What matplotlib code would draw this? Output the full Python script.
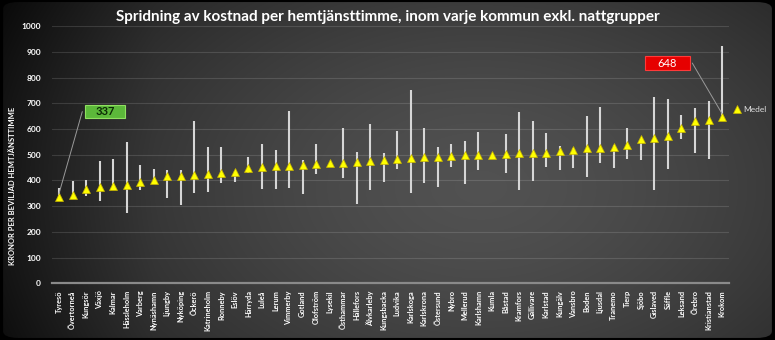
import numpy as np
import matplotlib
matplotlib.use("Agg")
import matplotlib.pyplot as plt
from matplotlib.patches import FancyBboxPatch, Rectangle

kommuner = ["Tyresö", "Övertorneå", "Kungsör", "Växjö", "Kalmar", "Hässleholm", "Varberg",
            "Nynäshamn", "Ljungby", "Nyköping", "Öckerö", "Katrineholm", "Ronneby", "Eslöv",
            "Härryda", "Luleå", "Lerum", "Vimmerby", "Gotland", "Olofström", "Lysekil",
            "Östhammar", "Hällefors", "Älvkarleby", "Kungsbacka", "Ludvika", "Karlskoga",
            "Karlskrona", "Östersund", "Nybro", "Mellerud", "Karlshamn", "Kumla", "Båstad",
            "Kramfors", "Gällivare", "Karlstad", "Kungälv", "Vansbro", "Boden", "Ljusdal",
            "Tranemo", "Tierp", "Sjöbo", "Gislaved", "Säffle", "Leksand", "Örebro",
            "Kristianstad", "Krokom"]

medel = [337, 345, 366, 376, 380, 384, 393, 402, 417, 419, 421, 424, 430, 434, 447, 451,
         455, 458, 460, 464, 467, 468, 473, 476, 478, 485, 489, 490, 493, 495, 498, 500,
         501, 502, 506, 507, 508, 516, 517, 527, 528, 529, 537, 560, 567, 573, 603, 630,
         635, 648]

lagst = [325, 345, 340, 321, 372, 272, 363, 400, 333, 305, 352, 357, 389, 395, 430, 367,
         366, 372, 349, 424, 467, 411, 309, 363, 395, 444, 350, 392, 376, 454, 386, 441,
         501, 428, 363, 398, 454, 441, 447, 412, 469, 447, 482, 480, 363, 443, 560, 508,
         482, 648]

hogst = [372, 397, 402, 477, 482, 549, 460, 446, 441, 441, 630, 529, 532, 436, 490, 542,
         517, 672, 478, 541, 467, 603, 511, 620, 506, 594, 752, 606, 529, 542, 554, 590,
         501, 580, 665, 631, 584, 534, 526, 651, 687, 538, 603, 560, 726, 717, 655, 681,
         711, 925]

y_ticks = [0, 100, 200, 300, 400, 500, 600, 700, 800, 900, 1000]

FONT = "Lato"
W, H = 775, 340
fig = plt.figure(figsize=(W / 100, H / 100), dpi=100, facecolor="black")

# dark vignette background with rounded corners
bg = fig.add_axes([0, 0, 1, 1], zorder=-10)
bg.set_axis_off()
yy, xx = np.mgrid[0:H, 0:W]
cx, cy = 0.62 * W, 0.55 * H
d = np.sqrt(((xx - cx) / (0.65 * W)) ** 2 + ((yy - cy) / (0.95 * H)) ** 2)
shade = np.clip(0.32 - 0.20 * d ** 1.5, 0.07, 0.34)
shade = shade - 0.05 * (xx < 0.2 * W) * (1 - xx / (0.2 * W))
img = np.dstack([shade, shade, shade])
im = bg.imshow(img, extent=[0, 1, 0, 1], aspect="auto", origin="upper")
bg.set_xlim(0, 1)
bg.set_ylim(0, 1)
clip = FancyBboxPatch((0.004, 0.006), 0.992, 0.988, boxstyle="round,pad=0,rounding_size=0.02",
                      transform=bg.transAxes, facecolor="none", edgecolor="none")
bg.add_patch(clip)
im.set_clip_path(clip)

ax = fig.add_axes([0.0674, 0.1668, 0.8730, 0.7559])
ax.set_facecolor("none")
x = np.arange(len(kommuner))

ax.set_xlim(-0.5, len(kommuner) - 0.5)
ax.set_ylim(0, 1000)
ax.set_yticks(y_ticks)
ax.set_yticklabels([str(v) for v in y_ticks], fontsize=6, fontweight="bold",
                   color="white", family=FONT)
ax.set_xticks(x)
ax.set_xticklabels(kommuner, rotation=90, fontsize=5.3, fontweight="bold",
                   color="white", family=FONT)
ax.tick_params(axis="both", length=0)
ax.tick_params(axis="y", pad=8)
ax.tick_params(axis="x", pad=5)
ax.grid(axis="y", color="white", alpha=0.13, linewidth=0.8)
ax.set_axisbelow(True)
for side in ["top", "right", "left"]:
    ax.spines[side].set_visible(False)
ax.spines["bottom"].set_color("#8a8a8a")
ax.spines["bottom"].set_linewidth(1.6)

# min-max spread per kommun
ax.vlines(x, lagst, hogst, color="#d6d6d6", linewidth=1.5, zorder=2)
# mean value
ax.plot(x, medel, linestyle="none", marker="^", markersize=5.2, color="#ffff00",
        markeredgecolor="#c8b400", markeredgewidth=0.5, zorder=3, label="Medel")

ax.set_ylabel("KRONOR PER BEVILJAD HEMTJÄNSTTIMME", fontsize=5.5, fontweight="bold",
              color="white", family=FONT)
ax.yaxis.set_label_coords(-0.054, 0.38)

fig.text(0.5, 0.951, "Spridning av kostnad per hemtjänsttimme, inom varje kommun exkl. nattgrupper",
         ha="center", va="center", fontsize=11, fontweight="bold", color="white", family=FONT)

# legend
leg = ax.legend(loc="center left", bbox_to_anchor=(1.0, 0.675), frameon=False,
                handlelength=0.8, handletextpad=0.3, borderaxespad=0.2,
                prop={"family": FONT, "size": 6})
for t in leg.get_texts():
    t.set_color("#e0e0e0")


def callout(idx, x0, x1, y0, y1, face, edge, txt_color, weight, side):
    """Label box spanning x0..x1 / y0..y1 with a leader line to the marker."""
    ax.add_patch(Rectangle((x0, y0), x1 - x0, y1 - y0, facecolor=face, edgecolor=edge,
                           linewidth=0.8, zorder=4))
    ax.text((x0 + x1) / 2, (y0 + y1) / 2, str(medel[idx]), ha="center", va="center",
            fontsize=8, fontweight=weight, color=txt_color, family=FONT, zorder=5)
    sx = x0 - 0.2 if side == "left" else x1 + 0.2
    ax.annotate("", xy=(x[idx], medel[idx] + 12), xytext=(sx, (y0 + y1) / 2),
                arrowprops=dict(arrowstyle="-", color="#9a9a9a", linewidth=0.7,
                                shrinkA=0, shrinkB=0), zorder=4)


i_lo = int(np.argmin(medel))
i_hi = int(np.argmax(medel))
callout(i_lo, 1.92, 4.88, 643, 693, "#5cb83a", "#8fe060", "#0c2a05", "bold", "left")
callout(i_hi, 43.3, 46.6, 830, 884, "#e60000", "#ff3a3a", "white", "normal", "right")

fig.savefig("out.png", dpi=100, facecolor=fig.get_facecolor())
